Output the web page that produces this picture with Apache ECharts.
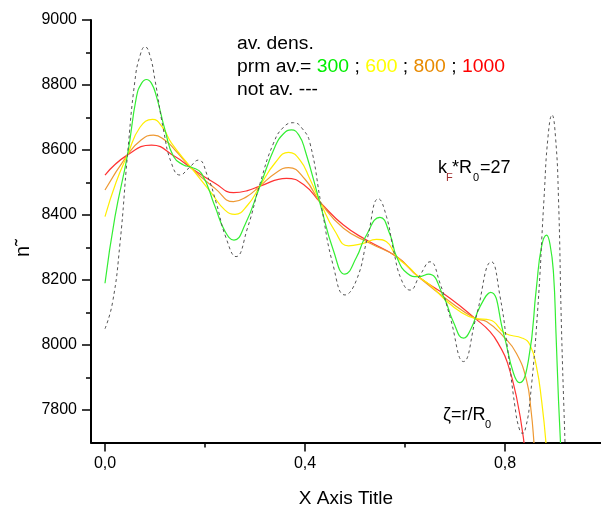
<!DOCTYPE html>
<html><head><meta charset="utf-8">
<script src="https://cdn.jsdelivr.net/npm/echarts@6/dist/echarts.min.js"></script>
<style>html,body{margin:0;padding:0;background:#fff}#c{width:601px;height:514px}</style>
</head><body><div id="c"></div>
<script>
// ---- data ----
const notAvX = [0.000, 0.015, 0.030, 0.045, 0.060, 0.070, 0.080, 0.090, 0.100, 0.117, 0.133, 0.150, 0.168, 0.187, 0.205, 0.222, 0.242, 0.262, 0.285, 0.310, 0.337, 0.357, 0.377, 0.395, 0.410, 0.433, 0.457, 0.480, 0.503, 0.525, 0.547, 0.563, 0.577, 0.593, 0.610, 0.630, 0.650, 0.670, 0.690, 0.717, 0.742, 0.773, 0.790, 0.805, 0.820, 0.828, 0.835, 0.842, 0.850, 0.865, 0.878, 0.886, 0.894, 0.901, 0.907, 0.913, 0.920, 0.926];
const notAvY = [8050, 8130, 8313, 8585, 8815, 8890, 8918, 8890, 8815, 8662, 8559, 8523, 8545, 8569, 8520, 8440, 8330, 8272, 8360, 8497, 8621, 8670, 8684, 8665, 8621, 8426, 8241, 8154, 8200, 8330, 8450, 8395, 8292, 8200, 8169, 8215, 8256, 8190, 8087, 7949, 8085, 8256, 8150, 7990, 7810, 7745, 7728, 7750, 7830, 8100, 8450, 8640, 8708, 8640, 8450, 8050, 7700, 7400];

const av300X = [0.000, 0.020, 0.045, 0.063, 0.073, 0.083, 0.093, 0.103, 0.120, 0.137, 0.157, 0.173, 0.193, 0.220, 0.240, 0.258, 0.280, 0.310, 0.340, 0.357, 0.373, 0.388, 0.400, 0.430, 0.457, 0.480, 0.503, 0.520, 0.550, 0.570, 0.583, 0.605, 0.627, 0.647, 0.677, 0.697, 0.717, 0.732, 0.750, 0.771, 0.797, 0.817, 0.829, 0.847, 0.863, 0.873, 0.883, 0.890, 0.897, 0.902, 0.907, 0.911, 0.916];
const av300Y = [8190, 8395, 8585, 8764, 8805, 8817, 8805, 8764, 8662, 8580, 8554, 8547, 8528, 8426, 8350, 8323, 8370, 8489, 8610, 8650, 8662, 8645, 8600, 8436, 8290, 8218, 8270, 8330, 8393, 8340, 8272, 8220, 8210, 8218, 8149, 8070, 8021, 8050, 8118, 8162, 8036, 7913, 7884, 7954, 8179, 8302, 8338, 8310, 8221, 8036, 7831, 7698, 7500];

const av600X = [0.000, 0.022, 0.045, 0.070, 0.095, 0.115, 0.133, 0.173, 0.213, 0.240, 0.260, 0.285, 0.310, 0.340, 0.367, 0.390, 0.410, 0.431, 0.460, 0.487, 0.515, 0.543, 0.563, 0.583, 0.610, 0.627, 0.650, 0.677, 0.710, 0.740, 0.770, 0.800, 0.835, 0.850, 0.863, 0.873, 0.882, 0.888];
const av600Y = [8395, 8500, 8585, 8670, 8694, 8670, 8621, 8544, 8467, 8415, 8402, 8430, 8489, 8560, 8593, 8569, 8510, 8438, 8350, 8305, 8312, 8325, 8318, 8272, 8236, 8210, 8185, 8144, 8103, 8082, 8077, 8036, 8021, 8000, 7933, 7831, 7698, 7550];

const av800X = [0.000, 0.045, 0.070, 0.097, 0.120, 0.140, 0.173, 0.220, 0.257, 0.282, 0.310, 0.340, 0.367, 0.400, 0.431, 0.477, 0.530, 0.583, 0.627, 0.690, 0.740, 0.763, 0.797, 0.823, 0.843, 0.852, 0.858, 0.865];
const av800Y = [8477, 8585, 8628, 8646, 8630, 8600, 8544, 8482, 8441, 8455, 8489, 8528, 8546, 8510, 8438, 8359, 8313, 8272, 8210, 8133, 8082, 8072, 8026, 7974, 7892, 7800, 7698, 7550];

const av1000X = [0.000, 0.045, 0.093, 0.140, 0.173, 0.220, 0.257, 0.285, 0.310, 0.363, 0.400, 0.431, 0.477, 0.523, 0.583, 0.627, 0.690, 0.740, 0.770, 0.790, 0.805, 0.823, 0.838, 0.845];
const av1000Y = [8523, 8585, 8615, 8580, 8544, 8498, 8469, 8475, 8489, 8513, 8490, 8438, 8369, 8323, 8272, 8210, 8144, 8082, 8041, 7995, 7945, 7840, 7700, 7580];

const xMajorTicks = [0.0, 0.4, 0.8];
const xMinorTicks = [0.2, 0.6];
const yMajorTicks = [7800, 8000, 8200, 8400, 8600, 8800, 9000];
const yMinorTicks = [7900, 8100, 8300, 8500, 8700, 8900];

// ---- chart ----
function zip(xs, ys) { return xs.map((x, i) => [x, ys[i]]); }
const FAM = '"Liberation Sans", Arial, sans-serif';
const f = (s) => s + 'px ' + FAM;
const xMin = -0.028, xMax = 0.992, yMin = 7700, yMax = 9000;

function txt(text, x, y, size, color, extra) {
  return Object.assign({
    type: 'text', x: x, y: y, silent: true, z: 100,
    style: { text: text, font: f(size), fill: color || '#000',
      align: 'left', verticalAlign: 'middle', textAlign: 'left', textVerticalAlign: 'middle' }
  }, extra || {});
}

const chart = echarts.init(document.getElementById('c'), null, { renderer: 'canvas' });
const lineS = (name, xs, ys, color, extra) => Object.assign({
  name: name, type: 'line', data: zip(xs, ys), showSymbol: false, symbol: 'none',
  smooth: true, clip: true, xAxisIndex: 0, yAxisIndex: 0,
  lineStyle: { color: color, width: 1.2 }, animation: false
}, extra || {});

chart.setOption({
  animation: false,
  backgroundColor: '#fff',
  grid: { left: 91, right: 0, top: 20, bottom: 71.5, containLabel: false },
  xAxis: [
    { type: 'value', min: xMin, max: xMax,
      axisLine: { show: true, onZero: false, lineStyle: { color: '#000', width: 2 } },
      axisTick: { show: true, customValues: xMajorTicks, length: 9, lineStyle: { color: '#000', width: 1.5 } },
      axisLabel: { customValues: xMajorTicks, formatter: v => Number(v).toFixed(1).replace('.', ','),
        fontSize: 16, fontFamily: FAM, color: '#000', margin: 13 },
      splitLine: { show: false },
      name: 'X Axis Title', nameLocation: 'middle', nameGap: 47,
      nameTextStyle: { fontSize: 19, fontFamily: FAM, color: '#000' } },
    { type: 'value', min: xMin, max: xMax, position: 'bottom', gridIndex: 0,
      axisLine: { show: false, onZero: false },
      axisTick: { show: true, customValues: xMinorTicks, length: 5, lineStyle: { color: '#000', width: 1.5 } },
      axisLabel: { show: false }, splitLine: { show: false } }
  ],
  yAxis: [
    { type: 'value', min: yMin, max: yMax,
      axisLine: { show: true, onZero: false, lineStyle: { color: '#000', width: 2 } },
      axisTick: { show: true, customValues: yMajorTicks, length: 9, lineStyle: { color: '#000', width: 1.5 } },
      axisLabel: { customValues: yMajorTicks, formatter: v => String(Math.round(v)),
        fontSize: 16, fontFamily: FAM, color: '#000', margin: 14 },
      splitLine: { show: false } },
    { type: 'value', min: yMin, max: yMax, position: 'left', gridIndex: 0,
      axisLine: { show: false, onZero: false },
      axisTick: { show: true, customValues: yMinorTicks, length: 5, lineStyle: { color: '#000', width: 1.5 } },
      axisLabel: { show: false }, splitLine: { show: false } }
  ],
  series: [
    lineS('1000', av1000X, av1000Y, '#ff3333'),
    lineS('800', av800X, av800Y, '#ee9933'),
    lineS('600', av600X, av600Y, '#ffee00'),
    lineS('300', av300X, av300Y, '#33ee33'),
    lineS('not av.', notAvX, notAvY, '#444', { lineStyle: { color: '#555', width: 1, type: [3, 3] } })
  ],
  graphic: [
    txt('av. dens.', 237, 44, 18, '#000', { scaleX: 1.07 }),
    { type: 'text', x: 237, y: 67, scaleX: 1.075, silent: true, z: 100,
      style: { text: 'prm av.= {g|300} ; {y|600} ; {o|800} ; {r|1000}', font: f(18), fill: '#000',
        align: 'left', verticalAlign: 'middle', textAlign: 'left', textVerticalAlign: 'middle',
        rich: {
          g: { fill: '#00ee00', font: f(18), fontSize: 18, fontFamily: FAM },
          y: { fill: '#ffff00', font: f(18), fontSize: 18, fontFamily: FAM },
          o: { fill: '#e88a00', font: f(18), fontSize: 18, fontFamily: FAM },
          r: { fill: '#ff0000', font: f(18), fontSize: 18, fontFamily: FAM }
        } } },
    txt('not av. ---', 237, 90, 18, '#000', { scaleX: 1.07 }),
    txt('k', 438, 168, 18),
    txt('F', 446, 178, 11, '#a03030'),
    txt('*R', 452, 168, 18),
    txt('0', 473, 177.5, 11),
    txt('=27', 480, 168, 18),
    txt('\u03B6=r/R', 443, 415.5, 18),
    txt('0', 485, 424.5, 11),
    { type: 'text', x: 23, y: 248, rotation: Math.PI / 2, silent: true, z: 100,
      style: { text: 'n\u02DC', font: f(20), fill: '#000',
        align: 'center', verticalAlign: 'middle', textAlign: 'center', textVerticalAlign: 'middle' } }
  ]
});
</script>
</body></html>
